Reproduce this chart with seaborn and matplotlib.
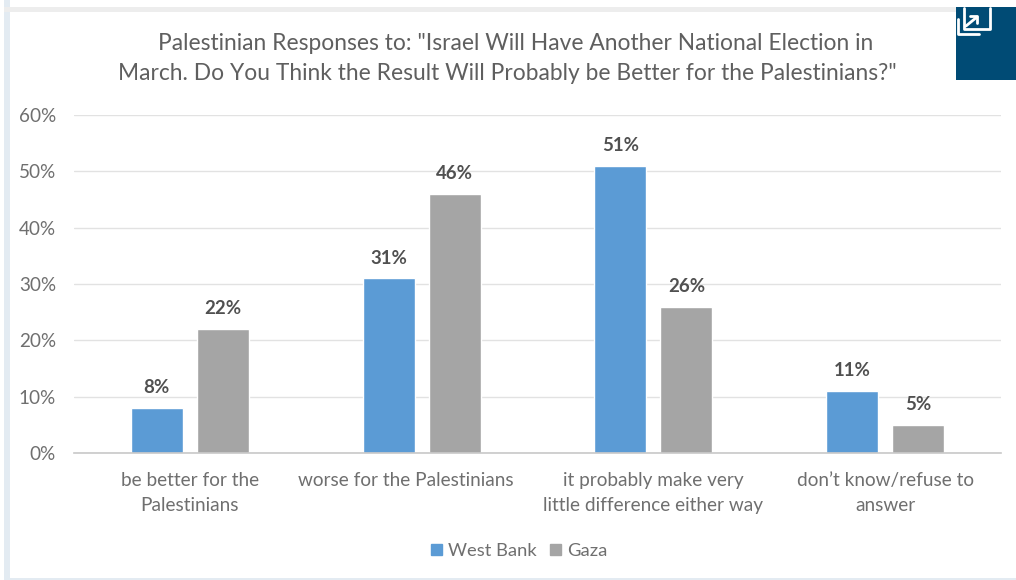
import matplotlib
matplotlib.use("Agg")
import matplotlib.pyplot as plt
from matplotlib.patches import Rectangle
from matplotlib.lines import Line2D
from matplotlib.transforms import ScaledTranslation
import pandas as pd
import seaborn as sns

categories = ["be better for the\nPalestinians", "worse for the Palestinians",
              "it probably make very\nlittle difference either way",
              "don\u2019t know/refuse to\nanswer"]
west_bank = [8, 31, 51, 11]
gaza = [22, 46, 26, 5]
series_names = ["West Bank", "Gaza"]
palette = ["#5B9BD5", "#A5A5A5"]
title_lines = ['Palestinian Responses to: "Israel Will Have Another National Election in',
               'March. Do You Think the Result Will Probably be Better for the Palestinians?"']

W, H = 1016, 580
sns.set_theme(style="white")
plt.rcParams["font.family"] = ["Lato", "DejaVu Sans"]
TEXT = "#6f6f6f"

fig = plt.figure(figsize=(W / 100, H / 100), dpi=100, facecolor="white")

# Axes placed by pixel edges
left, right, top, bottom = 74, 1001, 115, 453
ax = fig.add_axes([left / W, 1 - bottom / H, (right - left) / W, (bottom - top) / H])

df = pd.DataFrame({
    "category": categories * 2,
    "share": west_bank + gaza,
    "region": [series_names[0]] * 4 + [series_names[1]] * 4,
})
sns.barplot(data=df, x="category", y="share", hue="region", order=categories,
            hue_order=series_names, palette=palette, width=0.57, gap=0.212,
            saturation=1, ax=ax, legend=False)

for container in ax.containers:
    ax.bar_label(container, fmt="%d%%", padding=8.5, fontsize=13.4,
                 fontweight="bold", color="#505050")

ax.set_xlim(-0.5, 3.5)
ax.set_ylim(0, 60)
ax.set_yticks(range(0, 70, 10))
ax.set_yticklabels([f"{v}%" for v in range(0, 70, 10)], fontsize=13.6, color=TEXT)
ax.tick_params(axis="y", length=0, pad=13)
ax.tick_params(axis="x", length=0, pad=14, labelsize=13.7, labelcolor=TEXT)
ax.set_xlabel("")
ax.set_ylabel("")
ax.grid(axis="y", color="#e2e2e2", linewidth=1)
ax.set_axisbelow(True)
for name in ["top", "left", "right"]:
    ax.spines[name].set_visible(False)
ax.spines["bottom"].set_color("#c8c8c8")
ax.spines["bottom"].set_linewidth(1.2)
for lbl in ax.get_xticklabels():
    lbl.set_linespacing(1.55)

# The single-line category label sits a little left of its group
shifted = ax.get_xticklabels()[1]
shifted.set_transform(shifted.get_transform() + ScaledTranslation(-16 / 100, 0, fig.dpi_scale_trans))


def px(x, y):
    return x / W, 1 - y / H


# Title, two separately centred lines
fig.text(*px(516, 44), title_lines[0], ha="center", va="center", fontsize=16.4, color="#5f5f5f")
fig.text(*px(507, 74), title_lines[1], ha="center", va="center", fontsize=16.4, color="#5f5f5f")

# Legend
handles = [Rectangle((0, 0), 1, 1, color=c) for c in palette]
fig.legend(handles, series_names, loc="center", bbox_to_anchor=px(519, 551), ncol=2,
           frameon=False, fontsize=13.2, labelcolor=TEXT, handlelength=0.6,
           handleheight=0.6, handletextpad=0.33, columnspacing=0.75)

# Card frame around the chart
frame = "#e3ebf2"
fig.add_artist(Rectangle(px(4, 580), 6 / W, 580 / H, transform=fig.transFigure, color=frame, lw=0))
fig.add_artist(Rectangle(px(4, 580), 1012 / W, 2.5 / H, transform=fig.transFigure, color=frame, lw=0))
fig.add_artist(Rectangle(px(4, 12), 952 / W, 5 / H, transform=fig.transFigure, color="#ededed", lw=0))

# Expand button in the top right corner
navy = "#004B75"
fig.add_artist(Rectangle(px(956, 80), 60 / W, 73 / H, transform=fig.transFigure, color=navy, lw=0))


def seg(points, lw=2.0):
    xs = [p[0] / W for p in points]
    ys = [1 - p[1] / H for p in points]
    fig.add_artist(Line2D(xs, ys, transform=fig.transFigure, color="white", lw=lw,
                          solid_capstyle="round", solid_joinstyle="round"))


seg([(964, 8), (964, 29), (990, 29), (990, 8)])
seg([(958, 19), (958, 34), (979, 34)])
seg([(966, 26), (977, 17)])
seg([(970, 16), (977, 16), (977, 23)])

fig.savefig("out.png", dpi=100)
